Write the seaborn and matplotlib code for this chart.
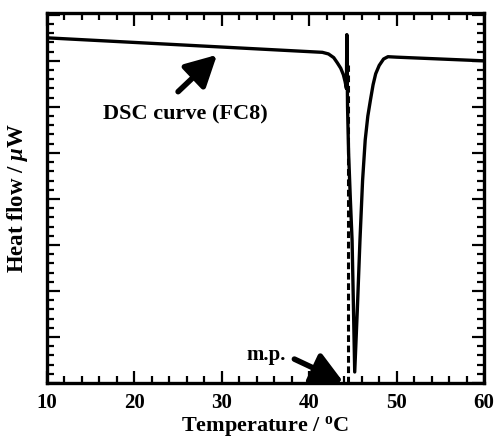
import numpy as np
import pandas as pd
import matplotlib
matplotlib.use("Agg")
import matplotlib.pyplot as plt
from matplotlib.ticker import MultipleLocator
import seaborn as sns

# DSC curve (temperature in °C, heat flow in arbitrary units)
temperature = [10, 20, 30, 40, 41.5, 42.2, 42.8, 43.2, 43.6, 43.9, 44.1, 44.25,
               44.3, 44.38, 44.5, 44.7, 44.9, 45.05, 45.2,
               45.5, 45.8, 46.1, 46.4, 46.7, 47.0, 47.3, 47.6, 48.0, 48.5, 49.0,
               50, 55, 60]
heat_flow = [7.50, 7.40, 7.30, 7.20, 7.185, 7.15, 7.07, 6.96, 6.84, 6.70, 6.55, 6.40,
             7.57, 6.00, 5.00, 4.00, 3.10, 1.70, 0.24,
             1.60, 3.10, 4.40, 5.28, 5.80, 6.15, 6.48, 6.72, 6.90, 7.04, 7.09,
             7.08, 7.04, 7.00]
melting_point = 44.4
xticks = [10, 20, 30, 40, 50, 60]

sns.set_style("ticks")
plt.rcParams["font.family"] = ["Liberation Serif", "DejaVu Serif"]
plt.rcParams["mathtext.fontset"] = "custom"
plt.rcParams["mathtext.rm"] = "Liberation Serif:bold"
plt.rcParams["mathtext.it"] = "Liberation Serif:italic:bold"
plt.rcParams["mathtext.bf"] = "Liberation Serif:bold"

fig = plt.figure(figsize=(4.94, 4.40), dpi=100)
ax = fig.add_axes([0.095, 0.1295, 0.885, 0.841])

df = pd.DataFrame({"T": temperature, "HF": heat_flow})
sns.lineplot(data=df, x="T", y="HF", sort=False, estimator=None, color="black",
             linewidth=2.4, ax=ax)
ax.plot([melting_point, melting_point], [0, 6.9], color="black", linewidth=2.2,
        linestyle=(0, (2.2, 1.2)))

ax.set_xlim(10, 60)
ax.set_ylim(0, 8.04)
ax.set_xticks(xticks)
ax.xaxis.set_minor_locator(MultipleLocator(2))
ax.yaxis.set_major_locator(MultipleLocator(1))
ax.yaxis.set_minor_locator(MultipleLocator(0.2))
ax.tick_params(which="both", direction="in", top=True, right=True, width=1.6,
               color="black")
ax.tick_params(which="major", length=9)
ax.tick_params(which="minor", length=5)
ax.tick_params(axis="y", labelleft=False)
ax.tick_params(axis="x", labelsize=15, pad=7, labelcolor="black")
for lab in ax.get_xticklabels():
    lab.set_fontweight("bold")
for s in ax.spines.values():
    s.set_linewidth(2.4)
    s.set_color("black")
    s.set_visible(True)

ax.set_xlabel(r"Temperature / $^{\mathrm{o}}$C", fontsize=16, fontweight="bold",
              labelpad=1, color="black")
ax.set_ylabel(r"Heat flow / $\mathit{\mu}$W", fontsize=16.5, fontweight="bold",
              labelpad=9, color="black")

ax.text(25.8, 5.83, "DSC curve (FC8)", ha="center", va="center", fontsize=16,
        fontweight="bold", color="black")
ax.text(35.1, 0.61, "m.p.", ha="center", va="center", fontsize=15,
        fontweight="bold", color="black")

arrow = dict(arrowstyle="-|>,head_length=0.85,head_width=0.45", color="black",
             lw=4, mutation_scale=22, shrinkA=0, shrinkB=0)
ax.annotate("", xy=(29.45, 7.13), xytext=(25.0, 6.33), arrowprops=arrow)
ax.annotate("", xy=(43.9, 0.02), xytext=(38.3, 0.52), arrowprops=arrow)

fig.savefig("out.png", dpi=100)
